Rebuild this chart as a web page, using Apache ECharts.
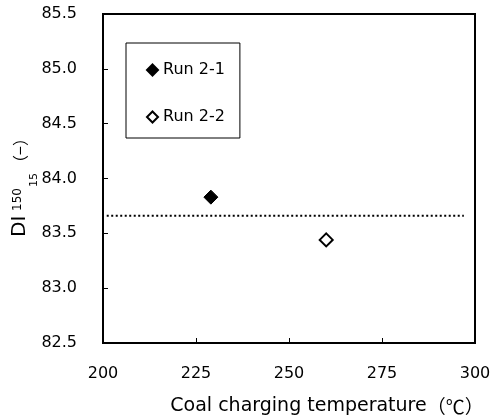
<!DOCTYPE html>
<html>
<head>
<meta charset="utf-8">
<script src="https://cdn.jsdelivr.net/npm/echarts@6/dist/echarts.min.js"></script>
<style>
  html, body { margin: 0; padding: 0; background: #fff; }
  #chart { width: 491px; height: 416px; }
</style>
</head>
<body>
<div id="chart"></div>
<script>
// Drum index DI(150/15) against coal charging temperature
const runNames = ['Run 2-1', 'Run 2-2'];
const run21 = [[229, 83.83]];          // [temperature °C, DI]
const run22 = [[260, 83.44]];
const baseLevel = 83.66;               // dotted reference level
const baseSpan = [201, 297];           // temperature extent of the reference level
const xRange = [200, 300, 25];         // min, max, step
const yRange = [82.5, 85.5, 0.5];

const FONT = '"DejaVu Sans", "Liberation Sans", sans-serif';
const CJK = '"Noto Sans CJK JP", sans-serif';

const chart = echarts.init(document.getElementById('chart'), null, { renderer: 'canvas' });

const textStyleOf = (text, x, y, size, family) => ({
  type: 'text', x: x, y: y,
  style: {
    text: text, font: size + 'px ' + family, fill: '#000',
    align: 'left', verticalAlign: 'middle', textAlign: 'left', textVerticalAlign: 'middle'
  }
});

chart.setOption({
  backgroundColor: '#fff',
  animation: false,
  grid: {
    left: 103, right: 16, top: 14, bottom: 73,
    outerBoundsMode: 'none',
    containLabel: false,
    show: true, borderColor: '#000', borderWidth: 2, backgroundColor: 'transparent'
  },
  xAxis: {
    type: 'value',
    min: xRange[0], max: xRange[1], interval: xRange[2],
    name: 'Coal charging temperature{c|（℃）}',
    nameLocation: 'middle',
    nameGap: 54,
    nameTextStyle: {
      color: '#000', fontSize: 19, fontFamily: FONT, padding: [0, 0, 0, 76],
      rich: { c: { fontSize: 19, fontFamily: CJK, color: '#000' } }
    },
    axisLine: { show: true, lineStyle: { color: '#000', width: 2 } },
    axisTick: { show: true, inside: true, length: 5, lineStyle: { color: '#000', width: 1 } },
    axisLabel: { color: '#000', fontSize: 16, fontFamily: FONT, margin: 23 },
    splitLine: { show: false }
  },
  yAxis: {
    type: 'value',
    min: yRange[0], max: yRange[1], interval: yRange[2],
    axisLine: { show: true, lineStyle: { color: '#000', width: 2 } },
    axisTick: { show: true, inside: true, length: 5, lineStyle: { color: '#000', width: 1 } },
    axisLabel: {
      color: '#000', fontSize: 16, fontFamily: FONT, margin: 26,
      formatter: v => v.toFixed(1)
    },
    splitLine: { show: false }
  },
  legend: {
    orient: 'vertical',
    left: 126, top: 43,
    padding: [19, 15, 13, 20],
    itemGap: 31,
    itemWidth: 11, itemHeight: 11,
    borderColor: '#000', borderWidth: 1,
    backgroundColor: '#fff',
    textStyle: { color: '#000', fontSize: 16, fontFamily: FONT },
    data: runNames
  },
  graphic: [{
    type: 'group',
    x: 27, y: 237,
    rotation: Math.PI / 2,
    silent: true,
    children: [
      textStyleOf('DI', 0, -7, 20, FONT),
      textStyleOf('150', 26, -9, 12, FONT),
      textStyleOf('15', 50, 7, 11, FONT),
      textStyleOf('（−）', 66, -7, 16, CJK)
    ]
  }],
  series: [
    {
      name: 'reference',
      type: 'line',
      data: [[baseSpan[0], baseLevel], [baseSpan[1], baseLevel]],
      symbol: 'none',
      silent: true,
      lineStyle: { color: '#000', width: 2, type: [2, 2.5] },
      z: 1
    },
    {
      name: runNames[0],
      type: 'scatter',
      data: run21,
      symbol: 'diamond',
      symbolSize: 14,
      itemStyle: { color: '#000', borderColor: '#000', borderWidth: 1, opacity: 1 },
      z: 3
    },
    {
      name: runNames[1],
      type: 'scatter',
      data: run22,
      symbol: 'diamond',
      symbolSize: 13,
      itemStyle: { color: '#fff', borderColor: '#000', borderWidth: 2, opacity: 1 },
      z: 3
    }
  ]
});
</script>
</body>
</html>
